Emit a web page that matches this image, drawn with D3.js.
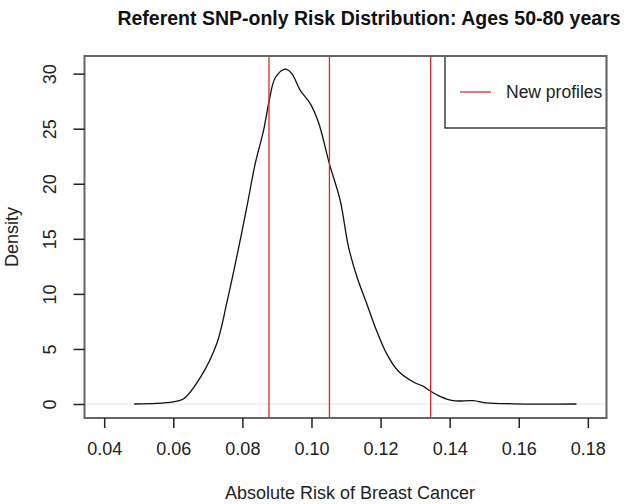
<!DOCTYPE html>
<html>
<head>
<meta charset="utf-8">
<script src="https://cdn.jsdelivr.net/npm/d3@7"></script>
<style>
  body { margin: 0; background: #fff; }
  svg { display: block; font-family: "Liberation Sans", Arial, sans-serif; }
</style>
</head>
<body>
<svg width="625" height="504"></svg>
<script>
// density curve
const riskValues = [0.0487, 0.055, 0.060, 0.0629, 0.0678, 0.0726, 0.0755, 0.0784, 0.0813, 0.0837, 0.0861,
  0.0878, 0.0895, 0.0924, 0.0943, 0.0967, 0.0996, 0.102, 0.1052, 0.1083, 0.1107, 0.1131, 0.1159,
  0.1188, 0.1217, 0.1251, 0.1295, 0.1324, 0.1343, 0.1372, 0.141, 0.1468, 0.1507, 0.1584, 0.1767];
const densityValues = [0, 0.05, 0.2, 0.45, 2.4, 5.5, 9.2, 13.4, 17.9, 21.8, 24.8,
  27.6, 29.6, 30.4, 30.0, 28.5, 27.3, 25.6, 21.8, 18.5, 14.3, 11.6, 9.2,
  6.7, 4.6, 3.0, 2.0, 1.6, 1.2, 0.7, 0.3, 0.3, 0.1, 0.02, 0];
const profileLines = [0.0877, 0.1052, 0.1345];
const xTicks = [0.04, 0.06, 0.08, 0.10, 0.12, 0.14, 0.16, 0.18];
const yTicks = [0, 5, 10, 15, 20, 25, 30];
const legendLabels = ["New profiles"];

const box = {left: 84.5, right: 606.5, top: 56, bottom: 418};

const svg = d3.select("svg");

const x = d3.scaleLinear().domain([0.0343, 0.1854]).range([box.left, box.right]);
const y = d3.scaleLinear().domain([-1.27, 31.6]).range([box.bottom, box.top]);

// zero line
svg.append("line")
  .attr("x1", box.left).attr("x2", box.right)
  .attr("y1", y(0)).attr("y2", y(0))
  .attr("stroke", "#e4e4e4").attr("stroke-width", 1);

// density line
const line = d3.line()
  .x((d, i) => x(riskValues[i]))
  .y(d => y(d))
  .curve(d3.curveCatmullRom.alpha(0.5));

svg.append("path")
  .datum(densityValues)
  .attr("d", line)
  .attr("fill", "none")
  .attr("stroke", "#111")
  .attr("stroke-width", 1.3);

// red profile lines
svg.selectAll(".profile")
  .data(profileLines)
  .enter().append("line")
  .attr("class", "profile")
  .attr("x1", d => x(d)).attr("x2", d => x(d))
  .attr("y1", box.top).attr("y2", box.bottom)
  .attr("stroke", "#e0262b").attr("stroke-width", 1.3);

// legend
const lg = svg.append("g");
lg.append("rect")
  .attr("x", 445).attr("y", box.top)
  .attr("width", box.right - 445).attr("height", 72)
  .attr("fill", "#fff").attr("stroke", "#111").attr("stroke-width", 1.2);
lg.append("line")
  .attr("x1", 460).attr("x2", 491).attr("y1", 92).attr("y2", 92)
  .attr("stroke", "#e0262b").attr("stroke-width", 1.3);
lg.append("text")
  .attr("x", 506).attr("y", 98)
  .attr("font-size", 17.5).attr("fill", "#222")
  .text(legendLabels[0]);

// plot frame
svg.append("rect")
  .attr("x", box.left).attr("y", box.top)
  .attr("width", box.right - box.left).attr("height", box.bottom - box.top)
  .attr("fill", "none").attr("stroke", "#666").attr("stroke-width", 2);

// x axis
const xAxis = svg.append("g")
  .attr("transform", "translate(0," + box.bottom + ")")
  .call(d3.axisBottom(x).tickValues(xTicks).tickFormat(d3.format(".2f")).tickSize(10).tickPadding(14));
xAxis.select(".domain").remove();
xAxis.selectAll("line").attr("stroke", "#222").attr("stroke-width", 1.5);
xAxis.selectAll("text").attr("font-size", 18).attr("fill", "#222").attr("font-family", "Liberation Sans, Arial, sans-serif");

// y axis
const yAxis = svg.append("g")
  .attr("transform", "translate(" + box.left + ",0)")
  .call(d3.axisLeft(y).tickValues(yTicks).tickSize(11));
yAxis.select(".domain").remove();
yAxis.selectAll("line").attr("stroke", "#222").attr("stroke-width", 1.5);
yAxis.selectAll("text")
  .attr("font-size", 18).attr("fill", "#222").attr("font-family", "Liberation Sans, Arial, sans-serif")
  .attr("text-anchor", "middle")
  .attr("x", 0).attr("dy", 0)
  .attr("transform", "translate(-29,0) rotate(-90)");

// titles
svg.append("text")
  .attr("x", 369).attr("y", 25)
  .attr("text-anchor", "middle")
  .attr("font-size", 19.5).attr("font-weight", "bold").attr("fill", "#111")
  .text("Referent SNP-only Risk Distribution: Ages 50-80 years");

svg.append("text")
  .attr("x", 350).attr("y", 499)
  .attr("text-anchor", "middle")
  .attr("font-size", 18).attr("fill", "#222")
  .text("Absolute Risk of Breast Cancer");

svg.append("text")
  .attr("transform", "translate(18,237) rotate(-90)")
  .attr("text-anchor", "middle")
  .attr("font-size", 18).attr("fill", "#222")
  .text("Density");
</script>
</body>
</html>
